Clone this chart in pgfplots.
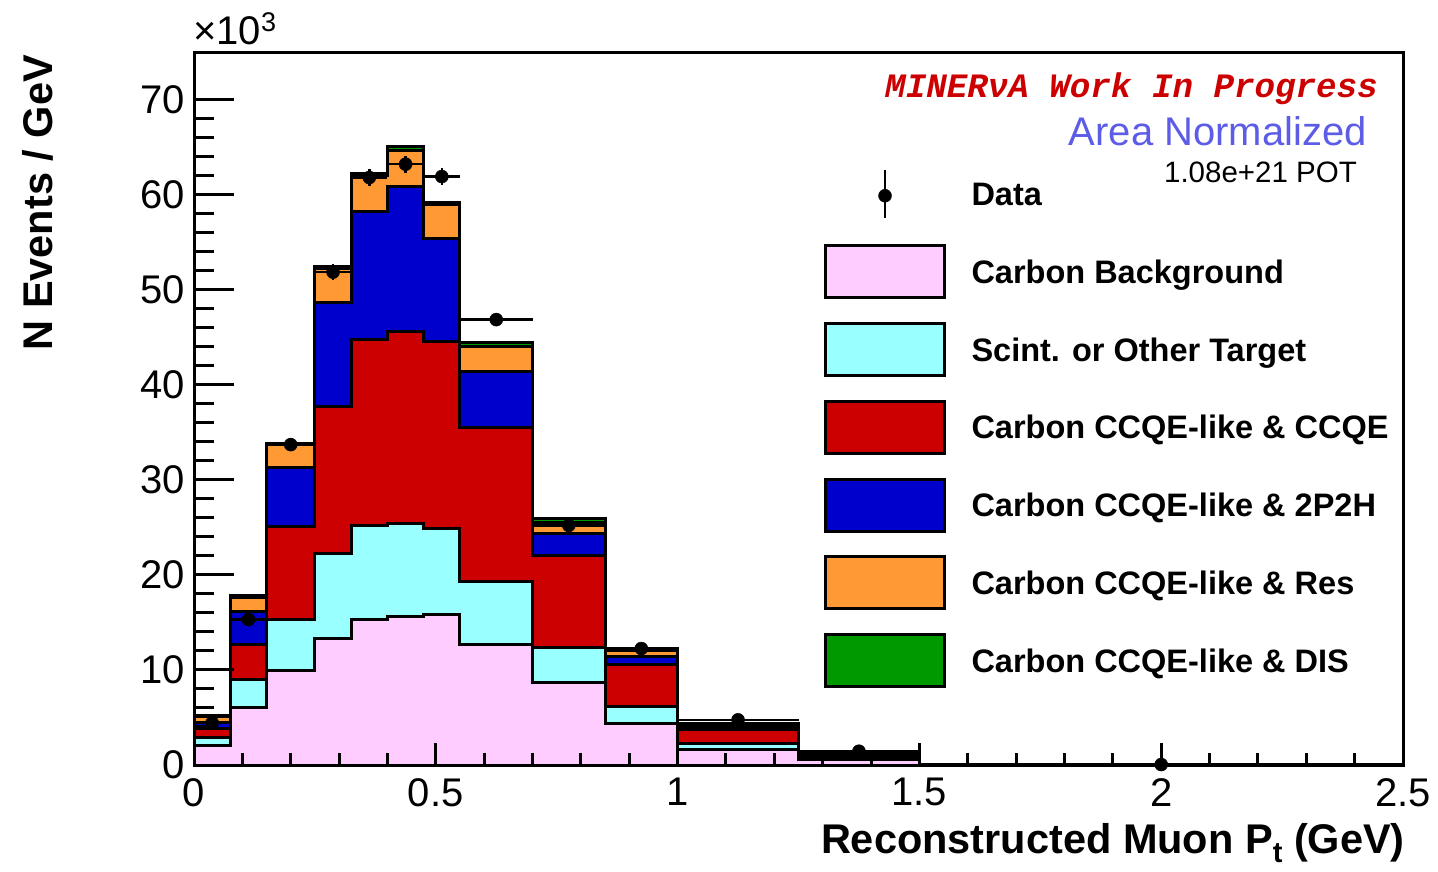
\documentclass[border=0pt]{standalone}
\usepackage{pgfplots}
\usepackage{pgfplotstable}
\pgfplotsset{compat=1.18}
\usepackage{fontspec}
\setmainfont{Liberation Sans}
\newfontfamily\stampfont{Liberation Mono}

\definecolor{cbkg}{RGB}{255,204,255}
\definecolor{cscint}{RGB}{153,255,255}
\definecolor{cqe}{RGB}{204,0,0}
\definecolor{cmp}{RGB}{0,0,204}
\definecolor{cres}{RGB}{255,153,51}
\definecolor{cdis}{RGB}{0,153,0}
\definecolor{cnorm}{RGB}{92,92,230}

% Cumulative stack heights (x10^3 events / GeV), one row per bin low edge;
% the last row closes the final bin at 2.5 GeV.
\pgfplotstableread{
xlo    bkg    scint  qe     mp     res    dis
0      2.05   2.90   3.80   4.50   5.05   5.20
0.075  6.02   9.02   12.72  16.10  17.65  17.80
0.15   9.90   15.35  25.10  31.25  33.70  33.85
0.25   13.35  22.30  37.70  48.60  52.20  52.40
0.325  15.35  25.20  44.75  58.25  62.05  62.25
0.4    15.60  25.40  45.55  60.80  64.65  65.10
0.475  15.85  24.90  44.60  55.40  58.95  59.20
0.55   12.70  19.35  35.55  41.35  44.05  44.40
0.7    8.65   12.35  22.00  24.40  25.50  25.90
0.85   4.35   6.20   10.55  11.40  12.05  12.30
1.0    1.65   2.30   3.75   4.00   4.20   4.40
1.25   0.55   0.70   1.00   1.12   1.25   1.32
1.5    0.02   0.03   0.04   0.05   0.06   0.07
2.5    0.02   0.03   0.04   0.05   0.06   0.07
}\stack

% Data: bin centre, value, half bin width, statistical error
\pgfplotstableread{
x       y      ex      ey
0.0375  4.45   0.0375  0.40
0.1125  15.30  0.0375  0.60
0.2     33.70  0.05    0.70
0.2875  51.85  0.0375  0.80
0.3625  61.80  0.0375  0.90
0.4375  63.20  0.0375  0.90
0.5125  61.90  0.0375  0.90
0.625   46.85  0.075   0.70
0.775   25.20  0.075   0.50
0.925   12.25  0.075   0.40
1.125   4.75   0.125   0.25
1.375   1.45   0.125   0.15
2.0     0.05   0.5     0.03
}\data

\pgfplotsset{
  hist/.style={const plot, draw=black, line width=3pt, fill=#1,
    legend image code/.code={%
      \path[draw=none, fill=none] (0pt,-27.5pt) rectangle (122pt,27.5pt);
      \draw[line width=3pt, draw=black, fill=#1] (1.5pt,-26pt) rectangle (120.5pt,26pt);}},
}

\begin{document}
\begin{tikzpicture}
\useasboundingbox (0pt,0pt) rectangle (1438pt,871pt);
\begin{axis}[
  at={(194pt,106pt)}, anchor=south west,
  width=1209pt, height=713pt, scale only axis,
  xmin=0, xmax=2.5, ymin=0, ymax=75,
  xtick={0,0.5,1,1.5,2,2.5}, ytick={0,10,...,70},
  minor x tick num=4, minor y tick num=4,
  tick align=inside, tick pos=left,
  major tick length=40pt, minor tick length=20pt,
  xtick style={/pgfplots/major tick length=22pt, /pgfplots/minor tick length=12pt},
  tick style={black, line width=3pt},
  axis line style={line width=3pt},
  axis on top,
  scaled y ticks=false,
  /pgf/number format/assume math mode=true,
  ticklabel style={font=\fontsize{40}{48}\selectfont, inner sep=0pt},
  yticklabel style={anchor=east, xshift=-9pt},
  xticklabel style={anchor=north, yshift=-13pt},
  reverse legend,
  legend style={at={(0.5211,0.8398)}, anchor=north west, draw=none, fill=none,
    inner sep=0pt, outer sep=0pt, row sep=22.85pt, column sep=25.5pt,
    font=\fontsize{32.5}{39}\selectfont\bfseries,
    cells={anchor=west},
    nodes={inner sep=0pt, text height=23.3pt, text depth=0pt}},
]
\addplot[hist=cdis]  table[x=xlo, y=dis]   {\stack} \closedcycle;
\addlegendentry{Carbon CCQE-like \& DIS}
\addplot[hist=cres]  table[x=xlo, y=res]   {\stack} \closedcycle;
\addlegendentry{Carbon CCQE-like \& Res}
\addplot[hist=cmp]   table[x=xlo, y=mp]    {\stack} \closedcycle;
\addlegendentry{Carbon CCQE-like \& 2P2H}
\addplot[hist=cqe]   table[x=xlo, y=qe]    {\stack} \closedcycle;
\addlegendentry{Carbon CCQE-like \& CCQE}
\addplot[hist=cscint] table[x=xlo, y=scint] {\stack} \closedcycle;
\addlegendentry{Scint. or Other Target}
\addplot[hist=cbkg]  table[x=xlo, y=bkg]   {\stack} \closedcycle;
\addlegendentry{Carbon Background}

\addplot[only marks, mark=*, mark size=6.5pt, black,
  mark options={fill=black, line width=0.5pt},
  legend image code/.code={%
    \path[draw=none, fill=none] (0pt,-27.5pt) rectangle (122pt,27.5pt);
    \draw[black, line width=2pt] (61pt,-24pt) -- (61pt,24pt);
    \fill[black] (61pt,-2pt) circle (6.5pt);},
  error bars/.cd, x dir=both, x explicit, y dir=both, y explicit,
  error mark=none, error bar style={line width=2.5pt, black}]
  table[x=x, y=y, x error=ex, y error=ey] {\data};
\addlegendentry{Data}
\end{axis}

\node[anchor=base west, inner sep=0pt] at (193pt,826pt)
  {\fontsize{40}{48}\selectfont ×10\raisebox{13pt}{\fontsize{27}{30}\selectfont 3}};
\node[rotate=90, anchor=base east, inner sep=0pt] at (52pt,816pt)
  {\fontsize{41.5}{48}\selectfont\bfseries N Events / GeV};
\node[anchor=base east, inner sep=0pt] at (1405pt,18pt)
  {\fontsize{41.5}{48}\selectfont\bfseries Reconstructed Muon P\raisebox{-9pt}{\fontsize{29}{30}\selectfont t} (GeV)};
\node[anchor=base east, inner sep=0pt, text=cqe] at (1378pt,773pt)
  {\stampfont\fontsize{34.2}{40}\selectfont\bfseries\itshape MINERνA Work In Progress};
\node[anchor=base east, inner sep=0pt, text=cnorm] at (1367pt,725pt)
  {\fontsize{40}{48}\selectfont Area Normalized};
\node[anchor=base east, inner sep=0pt] at (1357pt,688pt)
  {\fontsize{29.5}{36}\selectfont 1.08e+21 POT};
\end{tikzpicture}
\end{document}
